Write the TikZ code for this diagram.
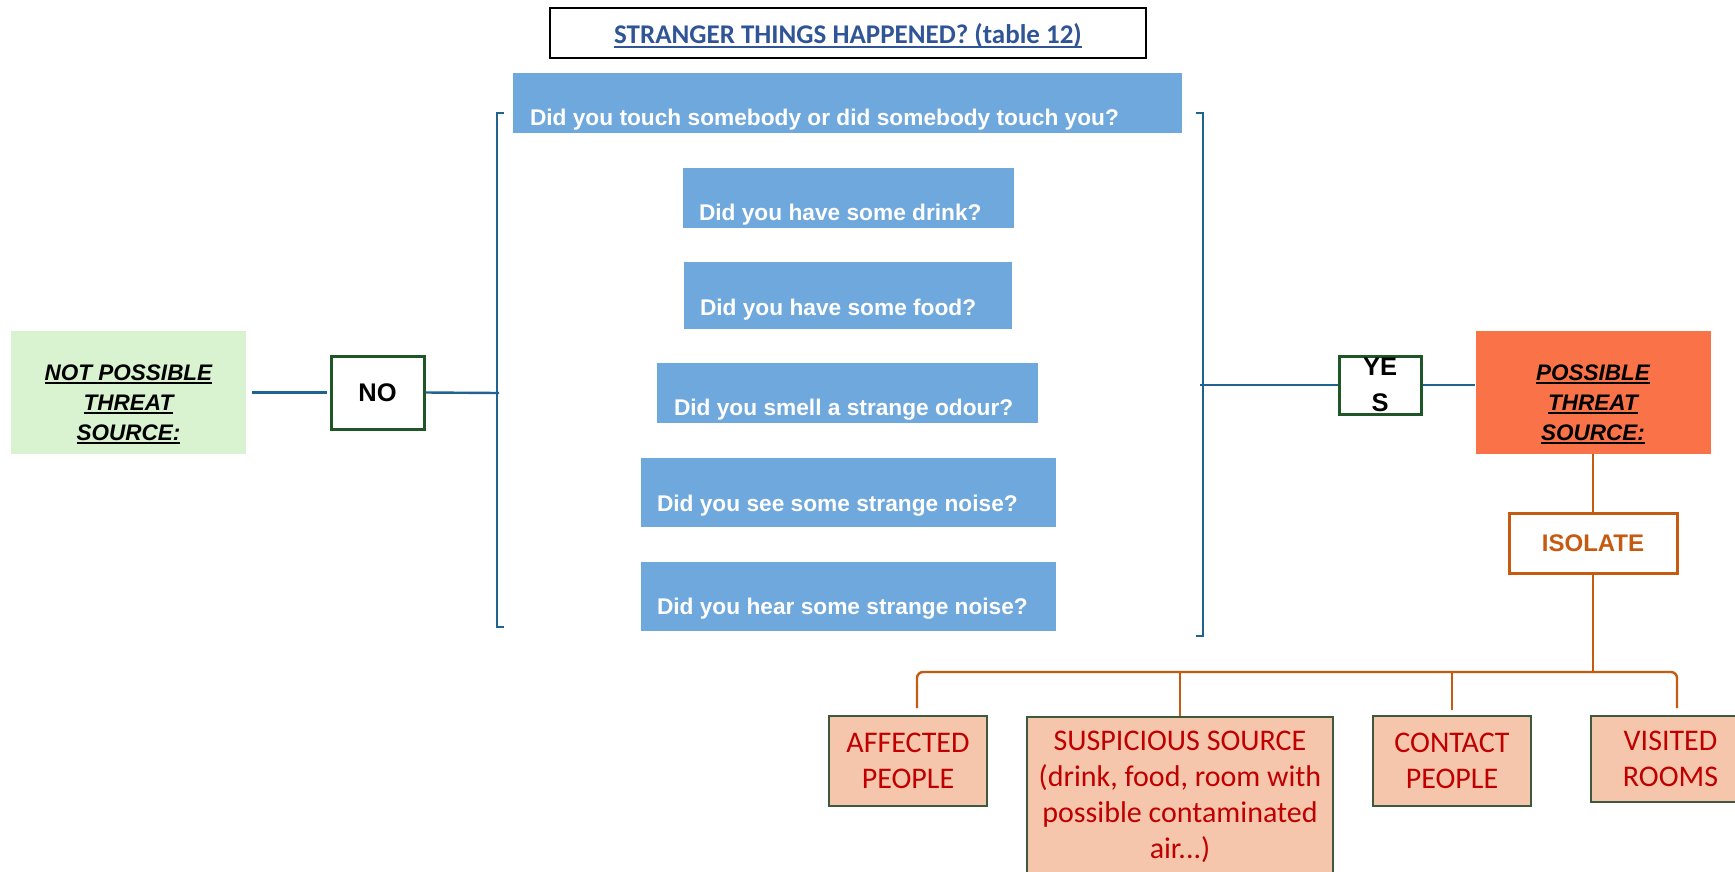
\documentclass[tikz,border=0pt]{standalone}
\usepackage{fontspec}
\setmainfont{Liberation Sans}
\newfontfamily\calfont{Carlito}
\usetikzlibrary{calc}
\definecolor{qblue}{RGB}{111,168,220}
\definecolor{lblue}{RGB}{31,99,145}
\definecolor{tblue}{RGB}{47,85,151}
\definecolor{lgreen}{RGB}{217,242,208}
\definecolor{dgreen}{RGB}{30,86,40}
\definecolor{coral}{RGB}{250,115,72}
\definecolor{burnt}{RGB}{197,90,17}
\definecolor{peach}{RGB}{245,198,172}
\definecolor{dred}{RGB}{192,0,0}
\definecolor{bgreen}{RGB}{60,90,60}
\newsavebox\ulbox
\newcommand\myul[1]{\sbox\ulbox{#1}\rlap{\rule[-4pt]{\wd\ulbox}{2pt}}\usebox\ulbox}
\begin{document}
\begin{tikzpicture}[x=1pt,y=-1pt,
  qbox/.style={fill=qblue, inner sep=0pt},
  qtext/.style={text=white, font=\bfseries\fontsize{22.7}{27}\selectfont, inner sep=0pt},
  conn/.style={draw=lblue, line width=2.4pt},
  oline/.style={draw=burnt, line width=2.4pt},
  ansbox/.style={draw=dgreen, line width=3pt, fill=white, inner sep=0pt, align=center, font=\bfseries\fontsize{25.5}{36}\selectfont},
  threatbox/.style={inner sep=0pt, minimum width=235, minimum height=123},
  threattext/.style={inner sep=0pt, align=center, font=\bfseries\itshape\fontsize{22.5}{30}\selectfont},
  outbox/.style={draw=bgreen, line width=1.2pt, fill=peach, text=dred, align=center, inner sep=0pt, minimum width=158, font=\calfont\fontsize{30}{36}\selectfont}]
\useasboundingbox (0,0) rectangle (1735,871);
\fill[white] (0,0) rectangle (1735,871);

% title
\node[draw=black, line width=2.5pt, minimum width=596, minimum height=50, inner sep=0pt] (title) at (848,33) {};
\node[font=\calfont\bfseries\fontsize{27}{32}\selectfont, text=tblue, inner sep=0pt] (titletext) at ($(title.center)+(0,3)$)
      {\myul{STRANGER THINGS HAPPENED? (table 12)}};

% questions
\node[qbox, minimum width=669, minimum height=60] (q1) at (847.5,103) {};
\node[qtext, anchor=base west] (t1) at ($(q1.south west)+(17,-8)$) {Did you touch somebody or did somebody touch you?};
\node[qbox, minimum width=331, minimum height=60] (q2) at (848.5,198) {};
\node[qtext, anchor=base west] (t2) at ($(q2.south west)+(16,-8)$) {Did you have some drink?};
\node[qbox, minimum width=328, minimum height=67] (q3) at (848,295.5) {};
\node[qtext, anchor=base west] (t3) at ($(q3.south west)+(16,-14)$) {Did you have some food?};
\node[qbox, minimum width=381, minimum height=60] (q4) at (847.5,393) {};
\node[qtext, anchor=base west] (t4) at ($(q4.south west)+(17,-8)$) {Did you smell a strange odour?};
\node[qbox, minimum width=415, minimum height=69] (q5) at (848.5,492.5) {};
\node[qtext, anchor=base west] (t5) at ($(q5.south west)+(16,-16)$) {Did you see some strange noise?};
\node[qbox, minimum width=415, minimum height=69] (q6) at (848.5,596.5) {};
\node[qtext, anchor=base west] (t6) at ($(q6.south west)+(16,-17)$) {Did you hear some strange noise?};

% brackets
\coordinate (lbtop) at (504,113);
\coordinate (lbbot) at (504,627);
\coordinate (lbmid) at (499,393);
\draw[conn] (lbtop) -- (497,113) -- (497,627) -- (lbbot);
\coordinate (rbtop) at (1196,113);
\coordinate (rbbot) at (1196,636);
\coordinate (rbmid) at (1200,385);
\draw[conn] (rbtop) -- (1203,113) -- (1203,636) -- (rbbot);

% left side
\node[threatbox, fill=lgreen] (npt) at (128.5,392.5) {};
\node[threattext] (npttext) at ($(npt.center)+(0,12)$) {\myul{NOT POSSIBLE}\\\myul{THREAT}\\\myul{SOURCE:}};
\node[ansbox, minimum width=93, minimum height=73] (no) at (377.5,392.5) {NO};
\draw[conn] ([xshift=6pt]npt.east) -- ([xshift=-3pt]no.west);
\draw[conn] (no.east) -- (lbmid);

% right side
\node[ansbox, minimum width=82, minimum height=58] (yes) at (1380,385) {YE\\S};
\node[threatbox, fill=coral] (pts) at (1593,392.5) {};
\node[threattext] (ptstext) at ($(pts.center)+(0,12)$) {\myul{POSSIBLE}\\\myul{THREAT}\\\myul{SOURCE:}};
\draw[conn] (rbmid) -- (yes.west);
\draw[conn] (yes.east) -- (yes.east -| pts.west);

\node[draw=burnt, line width=3pt, minimum width=168, minimum height=60, inner sep=0pt, text=burnt,
      font=\bfseries\fontsize{24}{28}\selectfont] (iso) at (1593,543) {ISOLATE};
\draw[oline] (pts.south) -- (iso.north);

% outputs
\node[outbox, minimum height=90] (aff) at (908,761) {AFFECTED\\PEOPLE};
\node[outbox, minimum width=306, minimum height=160] (sus) at (1180,797) {SUSPICIOUS SOURCE\\(drink, food, room with\\possible contaminated\\air...)};
\node[outbox, minimum height=90] (con) at (1452,761) {CONTACT\\PEOPLE};
\node[outbox, minimum width=159, minimum height=86] (vis) at (1670.5,759) {VISITED\\ROOMS};

\coordinate (hl) at (917,672);
\coordinate (hr) at (1677,672);
\draw[oline, rounded corners=6pt] (917,708) -- (hl) -- (hr) -- (1677,708);
\draw[oline] (iso.south) -- (iso.south |- hl);
\draw[oline] (sus.north |- hl) -- (sus.north);
\draw[oline] (con.north |- hl) -- ([yshift=5pt]con.north);
\end{tikzpicture}
\end{document}
